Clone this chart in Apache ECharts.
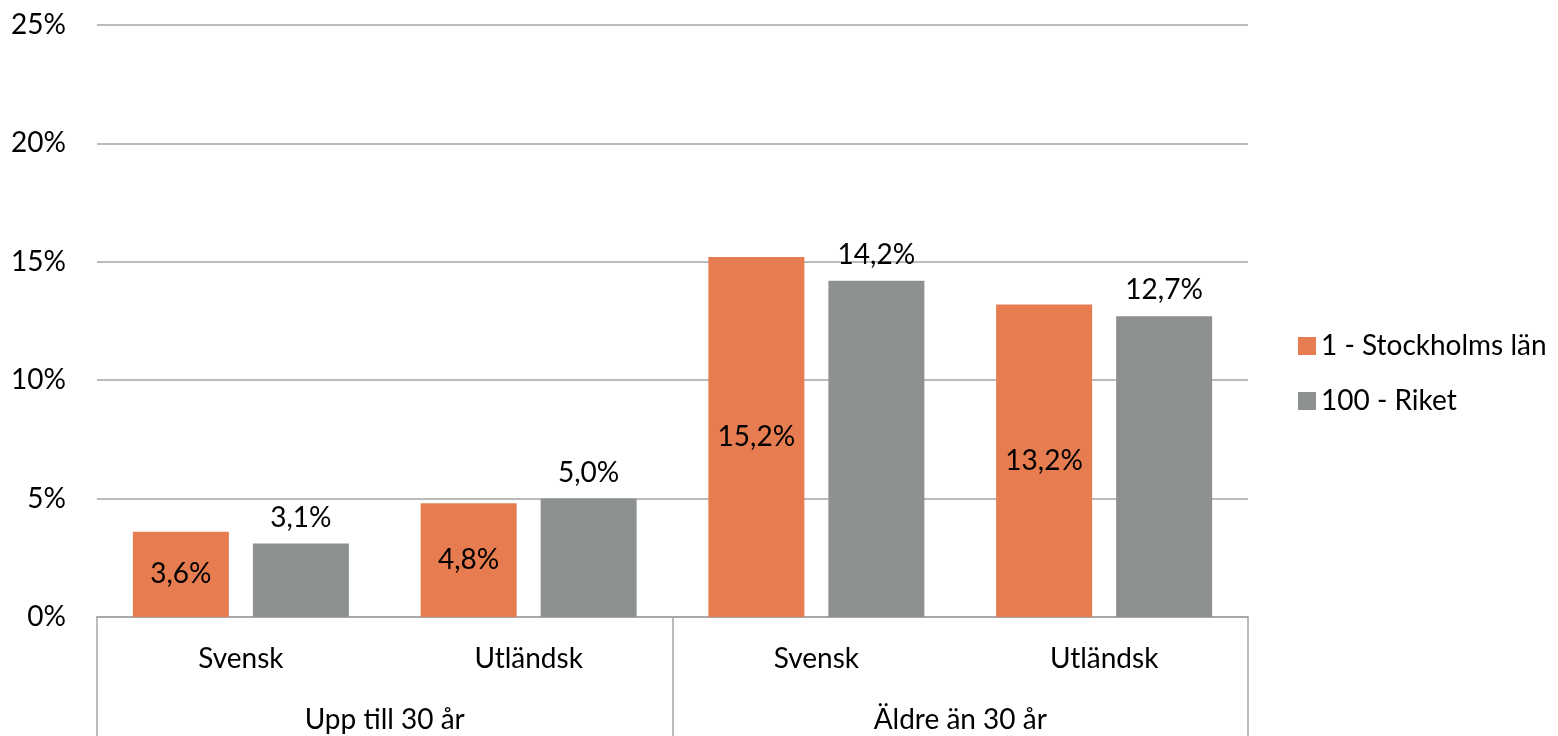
<!DOCTYPE html>
<html lang="sv">
  <head>
    <meta charset="UTF-8" />
    <title>Andel per grupp</title>
    <script src="https://cdn.jsdelivr.net/npm/echarts@6/dist/echarts.min.js"></script>
    <style>
      html, body { margin: 0; padding: 0; background: #fff; }
      #chart { width: 1558px; height: 736px; }
    </style>
  </head>
  <body>
    <div id="chart"></div>
    <script>
      // categories (two levels)
      const categories = ['Svensk', 'Utländsk', 'Svensk', 'Utländsk'];
      const groups = ['Upp till 30 år', 'Äldre än 30 år'];
      const seriesNames = ['1 - Stockholms län', '100 - Riket'];
      const stockholm = [3.6, 4.8, 15.2, 13.2];
      const riket = [3.1, 5.0, 14.2, 12.7];

      const font = 'Lato, "Open Sans", sans-serif';
      const fs = 28;
      const fmt = p => p.value.toFixed(1).replace('.', ',') + '%';

      const chart = echarts.init(document.getElementById('chart'));
      chart.setOption({
        animation: false,
        textStyle: { fontFamily: font },
        grid: { left: 97, right: 310, top: 25, bottom: 119 },
        legend: {
          orient: 'vertical',
          left: 1293,
          top: 327,
          itemWidth: 18,
          itemHeight: 18,
          itemGap: 27,
          icon: 'rect',
          textStyle: { fontSize: fs, color: '#000', fontFamily: font },
          data: seriesNames
        },
        xAxis: [
          {
            type: 'category',
            data: categories,
            axisLine: { lineStyle: { color: '#a6a6a6', width: 1.5 } },
            axisTick: { show: false },
            axisLabel: { color: '#000', fontSize: fs, margin: 28 }
          },
          {
            type: 'category',
            data: groups,
            position: 'bottom',
            axisLine: { lineStyle: { color: '#a6a6a6', width: 1.5 } },
            axisTick: { show: true, length: 125, lineStyle: { color: '#a6a6a6', width: 1.5 } },
            axisLabel: { color: '#000', fontSize: fs, margin: 89 }
          }
        ],
        yAxis: {
          type: 'value',
          min: 0,
          max: 25,
          interval: 5,
          axisLine: { show: false },
          axisTick: { show: false },
          axisLabel: { color: '#000', fontSize: fs, margin: 31, formatter: '{value}%' },
          splitLine: { lineStyle: { color: '#a6a6a6', width: 1.5 } }
        },
        series: [
          {
            name: seriesNames[0],
            type: 'bar',
            data: stockholm,
            barWidth: 96,
            barGap: '25%',
            itemStyle: { color: '#e67c4f' },
            label: { show: true, position: 'inside', color: '#000', fontSize: fs, formatter: fmt }
          },
          {
            name: seriesNames[1],
            type: 'bar',
            data: riket,
            barWidth: 96,
            itemStyle: { color: '#8c918e' },
            label: { show: true, position: 'top', distance: 12, color: '#000', fontSize: fs, formatter: fmt }
          }
        ]
      });
    </script>
  </body>
</html>
